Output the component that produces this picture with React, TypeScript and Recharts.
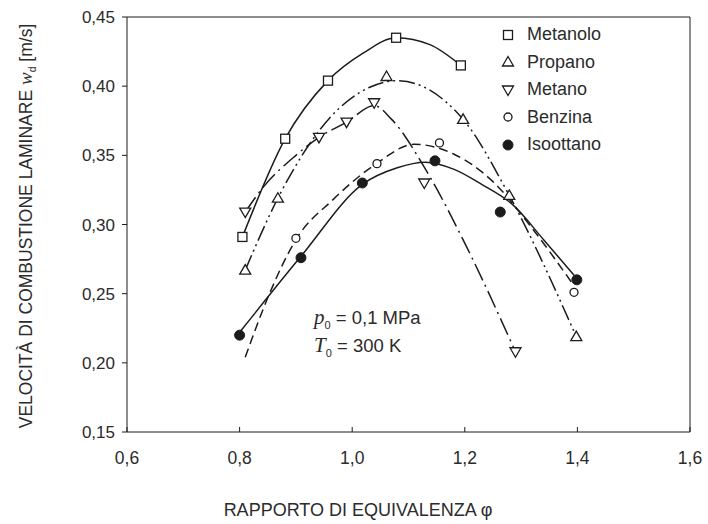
import React from 'react';
import { ComposedChart, Line, Scatter, XAxis, YAxis, ReferenceLine, Label } from 'recharts';

const xTicks = [0.6, 0.8, 1.0, 1.2, 1.4, 1.6];
const yTicks = [0.15, 0.2, 0.25, 0.3, 0.35, 0.4, 0.45];
const fuelNames = ['Metanolo', 'Propano', 'Metano', 'Benzina', 'Isoottano'];

// measured points (phi, laminar burning speed in m/s)
const metanolo = [
  { phi: 0.805, v: 0.291 },
  { phi: 0.881, v: 0.362 },
  { phi: 0.957, v: 0.404 },
  { phi: 1.078, v: 0.435 },
  { phi: 1.193, v: 0.415 },
];
const propano = [
  { phi: 0.81, v: 0.267 },
  { phi: 0.868, v: 0.319 },
  { phi: 1.061, v: 0.407 },
  { phi: 1.197, v: 0.376 },
  { phi: 1.279, v: 0.321 },
  { phi: 1.398, v: 0.219 },
];
const metano = [
  { phi: 0.81, v: 0.309 },
  { phi: 0.941, v: 0.363 },
  { phi: 0.99, v: 0.374 },
  { phi: 1.039, v: 0.388 },
  { phi: 1.128, v: 0.33 },
  { phi: 1.29, v: 0.208 },
];
const benzina = [
  { phi: 0.9, v: 0.29 },
  { phi: 1.044, v: 0.344 },
  { phi: 1.155, v: 0.359 },
  { phi: 1.394, v: 0.251 },
];
const isoottano = [
  { phi: 0.8, v: 0.22 },
  { phi: 0.909, v: 0.276 },
  { phi: 1.018, v: 0.33 },
  { phi: 1.147, v: 0.346 },
  { phi: 1.263, v: 0.309 },
  { phi: 1.399, v: 0.26 },
];

// fitted curves
const metanoloFit = [
  { phi: 0.805, v: 0.291 },
  { phi: 0.881, v: 0.362 },
  { phi: 0.957, v: 0.404 },
  { phi: 1.02, v: 0.424 },
  { phi: 1.078, v: 0.435 },
  { phi: 1.138, v: 0.43 },
  { phi: 1.193, v: 0.415 },
];
const propanoFit = [
  { phi: 0.81, v: 0.267 },
  { phi: 0.868, v: 0.319 },
  { phi: 0.96, v: 0.377 },
  { phi: 1.03, v: 0.399 },
  { phi: 1.08, v: 0.404 },
  { phi: 1.197, v: 0.376 },
  { phi: 1.279, v: 0.321 },
  { phi: 1.398, v: 0.219 },
];
const metanoFit = [
  { phi: 0.81, v: 0.309 },
  { phi: 0.842, v: 0.327 },
  { phi: 0.9, v: 0.35 },
  { phi: 0.941, v: 0.363 },
  { phi: 0.99, v: 0.374 },
  { phi: 1.039, v: 0.386 },
  { phi: 1.07, v: 0.376 },
  { phi: 1.133, v: 0.338 },
  { phi: 1.203, v: 0.284 },
  { phi: 1.29, v: 0.208 },
];
const benzinaFit = [
  { phi: 0.81, v: 0.204 },
  { phi: 0.85, v: 0.247 },
  { phi: 0.9, v: 0.289 },
  { phi: 0.966, v: 0.318 },
  { phi: 1.043, v: 0.344 },
  { phi: 1.11, v: 0.358 },
  { phi: 1.18, v: 0.351 },
  { phi: 1.25, v: 0.331 },
  { phi: 1.32, v: 0.297 },
  { phi: 1.39, v: 0.258 },
];
const isoottanoFit = [
  { phi: 0.8, v: 0.222 },
  { phi: 0.909, v: 0.277 },
  { phi: 1.018, v: 0.329 },
  { phi: 1.08, v: 0.341 },
  { phi: 1.13, v: 0.345 },
  { phi: 1.18, v: 0.34 },
  { phi: 1.23, v: 0.329 },
  { phi: 1.286, v: 0.314 },
  { phi: 1.34, v: 0.289 },
  { phi: 1.399, v: 0.261 },
];

const ink = '#1c1c1c';
const textInk = '#2b2b2b';
const sans = '"Liberation Sans", Arial, Helvetica, sans-serif';
const serif = '"Liberation Serif", "Times New Roman", serif';

const Square = ({ cx, cy }: any) => (
  <rect x={cx - 4.5} y={cy - 4.5} width={9} height={9} fill="#fff" stroke={ink} strokeWidth={1.3} />
);
const TriUp = ({ cx, cy }: any) => (
  <path d={`M${cx},${cy - 5.5}L${cx + 5.5},${cy + 4}L${cx - 5.5},${cy + 4}Z`} fill="#fff" stroke={ink} strokeWidth={1.3} />
);
const TriDown = ({ cx, cy }: any) => (
  <path d={`M${cx},${cy + 5.5}L${cx + 5.5},${cy - 4}L${cx - 5.5},${cy - 4}Z`} fill="#fff" stroke={ink} strokeWidth={1.3} />
);
const Ring = ({ cx, cy }: any) => <circle cx={cx} cy={cy} r={4} fill="#fff" stroke={ink} strokeWidth={1.3} />;
const Disc = ({ cx, cy }: any) => <circle cx={cx} cy={cy} r={5} fill={ink} stroke={ink} strokeWidth={1} />;

const markers = [Square, TriUp, TriDown, Ring, Disc];

const fmt = (n: number, d: number) => n.toFixed(d).replace('.', ',');

function YTitle() {
  return (
    <text
      x={32}
      y={226}
      transform="rotate(-90 32 226)"
      textAnchor="middle"
      fontFamily={sans}
      fontSize={17.5}
      fill={textInk}
    >
      VELOCITÀ DI COMBUSTIONE LAMINARE{' '}
      <tspan fontFamily={serif} fontStyle="italic" fontSize={19}>w</tspan>
      <tspan fontSize={10.5} dy={4}>d</tspan>
      <tspan dy={-4}> [m/s]</tspan>
    </text>
  );
}

function XTitle() {
  return (
    <text x={358} y={516} textAnchor="middle" fontFamily={sans} fontSize={18} fill={textInk}>
      RAPPORTO DI EQUIVALENZA φ
    </text>
  );
}

function FuelLegend() {
  return (
    <div style={{ position: 'absolute', left: 500, top: 21, fontFamily: sans, fontSize: 18, color: textInk }}>
      {fuelNames.map((name, i) => {
        const M = markers[i];
        return (
          <div key={name} style={{ display: 'flex', alignItems: 'center', height: 27.5 }}>
            <svg width={16} height={16} style={{ marginRight: 11 }}>
              <M cx={8} cy={8} />
            </svg>
            <span>{name}</span>
          </div>
        );
      })}
    </div>
  );
}

function Conditions() {
  return (
    <div style={{ position: 'absolute', left: 314, top: 307, fontFamily: sans, fontSize: 18.5, lineHeight: '20px', color: textInk }}>
      <div>
        <i style={{ fontFamily: serif, fontSize: 21 }}>p</i>
        <sub style={{ fontSize: 11 }}>0</sub> = 0,1 MPa
      </div>
      <div>
        <i style={{ fontFamily: serif, fontSize: 21 }}>T</i>
        <sub style={{ fontSize: 11 }}>0</sub> = 300 K
      </div>
    </div>
  );
}

export default function App() {
  const curve = (data: any[], dash?: string) => (
    <Line
      data={data}
      dataKey="v"
      type="monotone"
      stroke={ink}
      strokeWidth={1.5}
      strokeDasharray={dash}
      dot={false}
      activeDot={false}
      isAnimationActive={false}
    />
  );
  const points = (data: any[], shape: any) => (
    <Scatter data={data} dataKey="v" shape={shape} isAnimationActive={false} />
  );

  return (
    <div style={{ position: 'absolute', left: 0, top: 0, width: 708, height: 524, background: '#fff' }}>
      <ComposedChart width={708} height={524} margin={{ top: 17, right: 18, bottom: 32, left: 0 }}>
        <XAxis
          dataKey="phi"
          type="number"
          domain={[0.6, 1.6]}
          ticks={xTicks}
          tickFormatter={(v: number) => fmt(v, 1)}
          allowDataOverflow
          height={60}
          stroke={ink}
          tickSize={-5}
          tickMargin={25}
          tick={{ fill: textInk, fontSize: 17.5, fontFamily: sans }}
        >
          <Label content={<XTitle />} />
        </XAxis>
        <YAxis
          dataKey="v"
          type="number"
          domain={[0.15, 0.45]}
          ticks={yTicks}
          tickFormatter={(v: number) => fmt(v, 2)}
          allowDataOverflow
          width={127}
          stroke={ink}
          tickSize={5}
          tickMargin={7}
          tick={{ fill: textInk, fontSize: 17, fontFamily: sans }}
        >
          <Label content={<YTitle />} />
        </YAxis>
        <ReferenceLine y={0.45} stroke={ink} strokeWidth={1} />
        <ReferenceLine x={1.6} stroke={ink} strokeWidth={1} />

        {curve(metanoloFit)}
        {curve(propanoFit, '16 4 2 4 2 4')}
        {curve(metanoFit, '18 5 2 5')}
        {curve(benzinaFit, '9 5')}
        {curve(isoottanoFit)}

        {points(metanolo, Square)}
        {points(propano, TriUp)}
        {points(metano, TriDown)}
        {points(benzina, Ring)}
        {points(isoottano, Disc)}
      </ComposedChart>
      <FuelLegend />
      <Conditions />
    </div>
  );
}
